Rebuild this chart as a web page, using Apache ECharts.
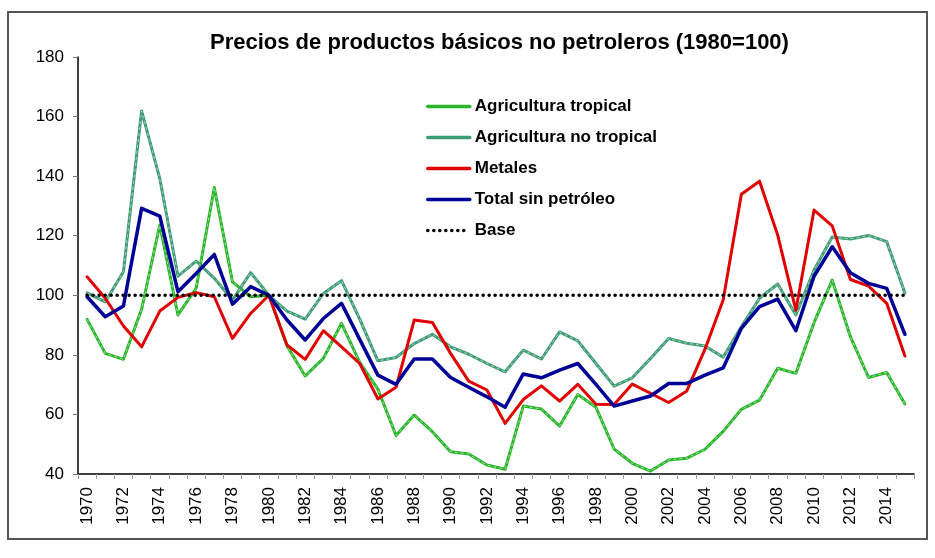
<!DOCTYPE html>
<html>
<head>
<meta charset="utf-8">
<script src="https://cdn.jsdelivr.net/npm/echarts@6/dist/echarts.min.js"></script>
<style>
  html, body { margin: 0; padding: 0; background: #fff; }
  #main { width: 935px; height: 558px; }
</style>
</head>
<body>
<div id="main"></div>
<script>
var years = ['1970','1971','1972','1973','1974','1975','1976','1977','1978','1979',
  '1980','1981','1982','1983','1984','1985','1986','1987','1988','1989',
  '1990','1991','1992','1993','1994','1995','1996','1997','1998','1999',
  '2000','2001','2002','2003','2004','2005','2006','2007','2008','2009',
  '2010','2011','2012','2013','2014','2015'];

// Agricultura tropical
var tropical = [91.9, 80.5, 78.5, 95.3, 123.6, 93.4, 102.3, 136.2, 104.5, 99.5,
  100, 83, 72.9, 78.8, 90.6, 77.5, 68.5, 52.9, 59.8, 54.2,
  47.5, 46.7, 43.0, 41.6, 62.8, 61.8, 56.1, 66.7, 62.4, 48.4,
  43.6, 41.0, 44.7, 45.3, 48.3, 54.3, 61.7, 64.8, 75.5, 73.8,
  90.8, 105.1, 86.1, 72.4, 74.1, 63.5];

// Agricultura no tropical
var noTropical = [100.8, 97.8, 107.9, 161.9, 139.2, 106.4, 111.5, 105.7, 98.4, 107.6,
  100, 94.7, 92.0, 100.6, 104.9, 92, 78.0, 79.1, 83.8, 86.9,
  82.7, 80.2, 77.1, 74.3, 81.6, 78.6, 87.7, 84.7, 77.1, 69.5,
  72.3, 78.8, 85.5, 83.9, 83.0, 79.2, 89.4, 99.0, 103.8, 93.4,
  108.5, 119.6, 118.9, 120.1, 118.0, 100.8];

var metales = [106.2, 99.0, 89.7, 82.7, 94.7, 99.3, 100.9, 99.5, 85.5, 93.9,
  100, 83.3, 78.5, 88.1, 82.7, 77.1, 65.2, 69.1, 91.7, 90.9,
  80.5, 71.2, 68.2, 57.0, 65.0, 69.6, 64.5, 70.1, 63.4, 63.3,
  70.2, 67.1, 64.0, 67.9, 81.9, 98.4, 133.9, 138.3, 120.2, 95.0,
  128.6, 123.3, 105.3, 103.1, 97.3, 79.6];

var total = [99.5, 92.8, 96.4, 129.2, 126.6, 101.2, 107.3, 113.7, 97.0, 102.9,
  100, 91.7, 85.0, 92.2, 97.3, 85.2, 73.2, 70.1, 78.6, 78.6,
  72.4, 69.1, 65.9, 62.4, 73.6, 72.3, 74.9, 77.1, 70.1, 62.8,
  64.5, 66.2, 70.4, 70.4, 73.2, 75.6, 88.9, 96.2, 98.7, 88.1,
  106.4, 116.3, 107.6, 104.0, 102.3, 86.9];

var base = [100, 100, 100, 100, 100, 100, 100, 100, 100, 100,
  100, 100, 100, 100, 100, 100, 100, 100, 100, 100,
  100, 100, 100, 100, 100, 100, 100, 100, 100, 100,
  100, 100, 100, 100, 100, 100, 100, 100, 100, 100,
  100, 100, 100, 100, 100, 100];

var yTicks = [40, 60, 80, 100, 120, 140, 160, 180];

var font = "'Liberation Sans', Arial, sans-serif";
var chart = echarts.init(document.getElementById('main'), null, { renderer: 'canvas' });

function lineSeries(name, data, color, width, type) {
  return {
    name: name,
    type: 'line',
    data: data,
    symbol: 'none',
    animation: false,
    lineStyle: { color: color, width: width, type: type || 'solid', cap: 'round', join: 'round' },
    itemStyle: { color: color }
  };
}

// thin light dashes inside the green lines
function overlay(data) {
  return {
    type: 'line',
    data: data,
    symbol: 'none',
    silent: true,
    animation: false,
    lineStyle: { color: 'rgba(255,255,255,0.55)', width: 1, type: [3, 3] }
  };
}

var baseSeries = lineSeries('Base', base, '#000000', 3.5, [0.1, 5.9]);

var option = {
  backgroundColor: '#ffffff',
  animation: false,
  title: {
    text: 'Precios de productos básicos no petroleros (1980=100)',
    left: 205,
    top: 27,
    textStyle: { fontFamily: font, fontSize: 22, fontWeight: 'bold', color: '#000' }
  },
  graphic: [{
    type: 'rect',
    shape: { x: 8, y: 12, width: 919, height: 527 },
    style: { fill: 'none', stroke: '#555', lineWidth: 2 },
    silent: true
  }],
  legend: {
    data: ['Agricultura tropical', 'Agricultura no tropical', 'Metales', 'Total sin petróleo', 'Base'],
    orient: 'vertical',
    left: 421,
    top: 93,
    itemWidth: 42,
    itemHeight: 14,
    itemGap: 14,
    selectedMode: false,
    itemStyle: { opacity: 0, borderWidth: 0 },
    lineStyle: { width: 3.5 },
    textStyle: { fontFamily: font, fontSize: 17, fontWeight: 'bold', color: '#000' }
  },
  grid: { left: 78, right: 21, top: 57, bottom: 84 },
  xAxis: {
    type: 'category',
    data: years,
    boundaryGap: true,
    axisLine: { lineStyle: { color: '#000', width: 1.5 } },
    axisTick: { show: true, interval: 0, length: 5, lineStyle: { color: '#999' } },
    axisLabel: { interval: 1, rotate: 90, margin: 13, fontFamily: font, fontSize: 17, color: '#000' },
    splitLine: { show: false }
  },
  yAxis: {
    type: 'value',
    min: yTicks[0],
    max: yTicks[yTicks.length - 1],
    interval: 20,
    axisLine: { show: true, lineStyle: { color: '#000', width: 1.5 } },
    axisTick: { show: true, length: 5, lineStyle: { color: '#777' } },
    axisLabel: { margin: 14, fontFamily: font, fontSize: 17, color: '#000' },
    splitLine: { show: false }
  },
  series: [
    lineSeries('Agricultura tropical', tropical, '#29B62A', 3),
    overlay(tropical),
    lineSeries('Agricultura no tropical', noTropical, '#3E9C74', 3),
    overlay(noTropical),
    lineSeries('Metales', metales, '#E10000', 3),
    lineSeries('Total sin petróleo', total, '#000096', 3.5),
    baseSeries
  ]
};

chart.setOption(option);
</script>
</body>
</html>
